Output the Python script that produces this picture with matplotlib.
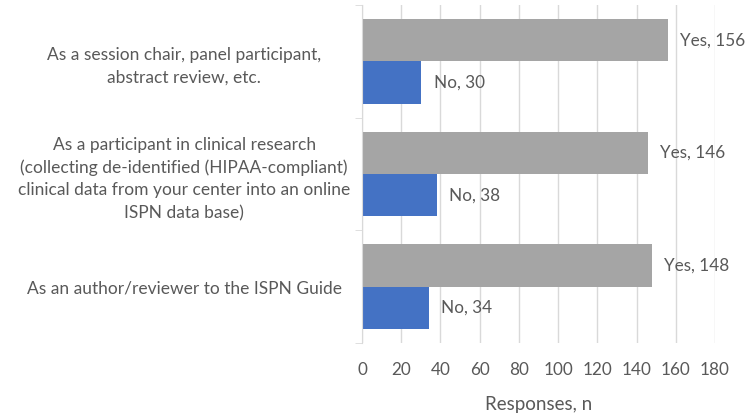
import matplotlib

matplotlib.use("Agg")
import matplotlib.pyplot as plt
import numpy as np

# Survey categories, top to bottom
categories = [
    "As a session chair, panel participant,\nabstract review, etc.",
    "As a participant in clinical research\n(collecting de-identified (HIPAA-compliant)\n"
    "clinical data from your center into an online\nISPN data base)",
    "As an author/reviewer to the ISPN Guide",
]
yes_counts = [156, 146, 148]
no_counts = [30, 38, 34]
x_ticks = [0, 20, 40, 60, 80, 100, 120, 140, 160, 180]

GRAY = "#A5A5A5"
BLUE = "#4472C4"
TEXT = "#595959"
GRID = "#D9D9D9"

plt.rcParams["font.family"] = ["Lato", "DejaVu Sans"]

fig = plt.figure(figsize=(7.49, 4.19), dpi=100)
ax = fig.add_axes([0.4833, 0.1814, 0.4713, 0.8066])

y = np.arange(len(categories))
h = 0.375
ax.barh(y - h / 2, yes_counts, height=h, color=GRAY, zorder=2)
ax.barh(y + h / 2, no_counts, height=h, color=BLUE, zorder=2)

for yi, v in zip(y, yes_counts):
    ax.text(v + 6, yi - h / 2, f"Yes, {v}", va="center", ha="left",
            color=TEXT, fontsize=12.3)
for yi, v in zip(y, no_counts):
    ax.text(v + 6.5, yi + h / 2, f"No, {v}", va="center", ha="left",
            color=TEXT, fontsize=12.3)

ax.set_xlim(0, 180)
ax.set_ylim(len(categories) - 0.5, -0.5)
ax.set_xticks(x_ticks)
ax.set_yticks(y)
ax.set_yticklabels(categories, ha="center", multialignment="center",
                   linespacing=1.5)
ax.set_yticks(np.arange(len(categories) + 1) - 0.5, minor=True)
ax.tick_params(axis="y", which="major", length=0, pad=128, labelsize=12.5,
               labelcolor=TEXT)
ax.tick_params(axis="y", which="minor", length=5, color=GRID)
ax.tick_params(axis="x", length=0, pad=14, labelsize=12.3, labelcolor=TEXT)
ax.grid(axis="x", color=GRID, linewidth=1, zorder=0)

for side in ("top", "right", "bottom"):
    ax.spines[side].set_visible(False)
ax.spines["left"].set_color(GRID)

ax.set_xlabel("Responses, n", color=TEXT, fontsize=13.5, labelpad=13)

fig.savefig("out.png", dpi=100, facecolor="white")
